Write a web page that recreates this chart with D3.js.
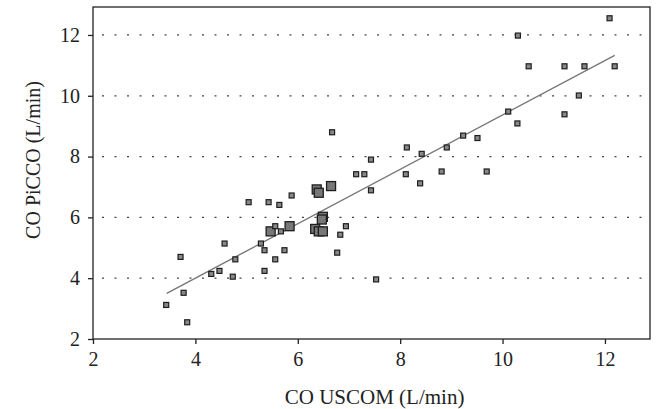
<!DOCTYPE html>
<html>
<head>
<meta charset="utf-8">
<script src="https://cdn.jsdelivr.net/npm/d3@7"></script>
<style>
  body { margin: 0; background: #fff; }
  text { font-family: "Liberation Serif", "Times New Roman", serif; fill: #222; }
</style>
</head>
<body>
<div id="chart"></div>
<script>
// Data

var uscom = [3.43, 3.84, 3.77, 3.71, 4.31, 4.47, 4.73, 4.78, 4.57, 5.04,
             5.28, 5.35, 5.35, 5.43, 5.56, 5.64, 5.74, 5.47, 5.56, 5.67,
             5.84, 5.88, 6.37, 6.41, 6.65, 6.49, 6.47, 6.34, 6.41, 6.49,
             6.67, 6.77, 6.83, 6.94, 7.14, 7.30, 7.43, 7.43, 7.53, 8.13,
             8.11, 8.42, 8.39, 8.81, 8.91, 9.23, 9.51, 9.69, 10.11, 10.29,
             10.30, 10.51, 11.21, 11.21, 11.49, 11.60, 12.09, 12.19];

var picco = [3.12, 2.55, 3.52, 4.70, 4.14, 4.24, 4.05, 4.62, 5.14, 6.50,
             5.14, 4.92, 4.24, 6.50, 4.62, 6.41, 4.92, 5.54, 5.71, 5.54,
             5.71, 6.72, 6.92, 6.81, 7.03, 6.02, 5.93, 5.62, 5.54, 5.54,
             8.80, 4.84, 5.43, 5.71, 7.42, 7.42, 7.90, 6.89, 3.96, 8.30,
             7.42, 8.09, 7.12, 7.51, 8.30, 8.69, 8.61, 7.51, 9.48, 9.09,
             11.98, 10.97, 10.97, 9.39, 10.01, 10.97, 12.55, 10.97];

// 2 = bigger marker (repeated measurements)
var weight = [1, 1, 1, 1, 1, 1, 1, 1, 1, 1,
              1, 1, 1, 1, 1, 1, 1, 2, 1, 1,
              2, 1, 2, 2, 2, 2, 2, 2, 2, 2,
              1, 1, 1, 1, 1, 1, 1, 1, 1, 1,
              1, 1, 1, 1, 1, 1, 1, 1, 1, 1,
              1, 1, 1, 1, 1, 1, 1, 1];

// regression line ends
var fitX = [3.44, 12.19];
var fitY = [3.50, 11.33];

var xTicks = [2, 4, 6, 8, 10, 12];
var yTicks = [2, 4, 6, 8, 10, 12];
var gridValues = [4, 6, 8, 10, 12];

var margin = {top: 7, right: 6, bottom: 70, left: 93};
var width = 656 - margin.left - margin.right;
var height = 409 - margin.top - margin.bottom;

var x = d3.scaleLinear()
    .domain([2, 12.88])
    .range([0, width]);

var y = d3.scaleLinear()
    .domain([2, 12.92])
    .range([height, 0]);

var svg = d3.select("#chart").append("svg")
    .attr("width", width + margin.left + margin.right)
    .attr("height", height + margin.top + margin.bottom);

var g = svg.append("g")
    .attr("transform", "translate(" + margin.left + "," + margin.top + ")");

// dotted horizontal grid
g.append("g").selectAll(".grid")
    .data(gridValues)
    .enter().append("line")
    .attr("class", "grid")
    .attr("x1", 0)
    .attr("x2", width)
    .attr("y1", function(d) { return y(d); })
    .attr("y2", function(d) { return y(d); })
    .attr("stroke", "#444")
    .attr("stroke-width", 1.2)
    .attr("stroke-dasharray", "2,10.5")
    .attr("stroke-dashoffset", -9);

// regression line
g.append("line")
    .attr("x1", x(fitX[0]))
    .attr("y1", y(fitY[0]))
    .attr("x2", x(fitX[1]))
    .attr("y2", y(fitY[1]))
    .attr("stroke", "#777")
    .attr("stroke-width", 1.4);

// points
var pts = d3.range(uscom.length);
g.append("g").selectAll(".pt")
    .data(pts)
    .enter().append("rect")
    .attr("class", "pt")
    .attr("x", function(i) { return x(uscom[i]) - (weight[i] == 2 ? 4.5 : 2.5); })
    .attr("y", function(i) { return y(picco[i]) - (weight[i] == 2 ? 4.5 : 2.5); })
    .attr("width", function(i) { return weight[i] == 2 ? 9 : 5; })
    .attr("height", function(i) { return weight[i] == 2 ? 9 : 5; })
    .attr("fill", function(i) { return weight[i] == 2 ? "#777" : "#888"; })
    .attr("stroke", "#1e1e1e")
    .attr("stroke-width", function(i) { return weight[i] == 2 ? 1.3 : 1.2; });

// frame
g.append("rect")
    .attr("width", width)
    .attr("height", height)
    .attr("fill", "none")
    .attr("stroke", "#222")
    .attr("stroke-width", 1.3);

var xAxis = d3.axisBottom(x).tickValues(xTicks).tickSize(5).tickPadding(8);
var yAxis = d3.axisLeft(y).tickValues(yTicks).tickSize(5).tickPadding(8);

var gx = g.append("g")
    .attr("transform", "translate(0," + height + ")")
    .call(xAxis);
var gy = g.append("g")
    .call(yAxis);

[gx, gy].forEach(function(a) {
  a.select(".domain").remove();
  a.selectAll(".tick line").attr("stroke", "#222").attr("stroke-width", 1.3);
  a.selectAll(".tick text")
    .style("font-family", "'Liberation Serif', serif")
    .style("font-size", "20px")
    .attr("fill", "#222");
});

// axis titles
svg.append("text")
    .attr("x", margin.left + x(7.5))
    .attr("y", 404)
    .attr("text-anchor", "middle")
    .style("font-size", "21px")
    .text("CO USCOM (L/min)");

svg.append("text")
    .attr("transform", "translate(40," + 160 + ") rotate(-90)")
    .attr("text-anchor", "middle")
    .style("font-size", "20px")
    .text("CO PiCCO (L/min)");
</script>
</body>
</html>
